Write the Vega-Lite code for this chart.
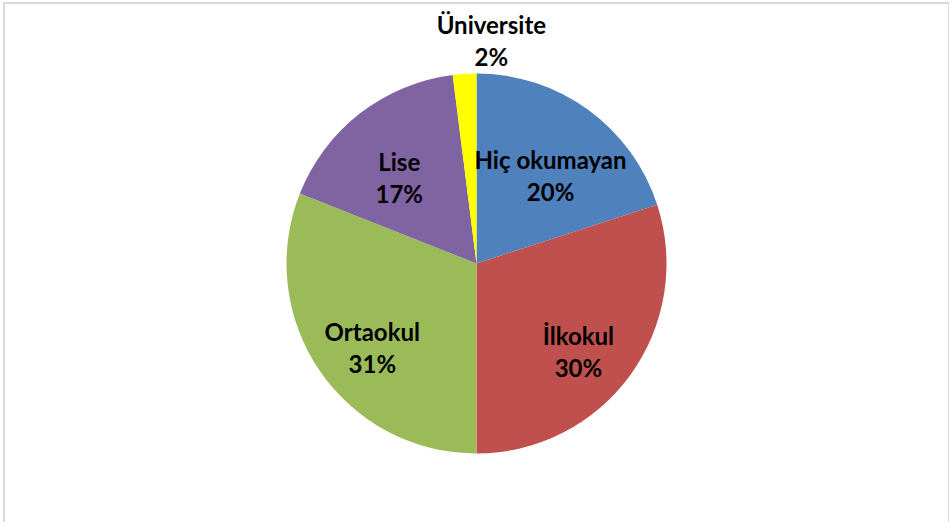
{
  "$schema": "https://vega.github.io/schema/vega-lite/v6.json",
  "width": 949,
  "height": 522,
  "autosize": {"type": "fit", "contains": "padding"},
  "padding": {"left": 4, "top": 3, "right": 0, "bottom": -2},
  "background": "white",
  "view": {"stroke": "#d9d9d9", "strokeWidth": 2},
  "data": {
    "values": [
      {"name": "Hiç okumayan", "value": 20},
      {"name": "İlkokul", "value": 30},
      {"name": "Ortaokul", "value": 31},
      {"name": "Lise", "value": 17},
      {"name": "Üniversite", "value": 2}
    ]
  },
  "transform": [
    {"window": [{"op": "row_number", "as": "idx"}]},
    {"calculate": "datum.name + '\\n' + datum.value + '%'", "as": "label"}
  ],
  "encoding": {
    "theta": {"field": "value", "type": "quantitative", "stack": true},
    "order": {"field": "idx", "type": "quantitative"}
  },
  "layer": [
    {
      "mark": {"type": "arc", "outerRadius": 190},
      "encoding": {
        "color": {
          "field": "name",
          "type": "nominal",
          "legend": null,
          "scale": {
            "domain": ["Hiç okumayan", "İlkokul", "Ortaokul", "Lise", "Üniversite"],
            "range": ["#4F81BD", "#C0504D", "#9BBB59", "#8064A2", "#FFFF00"]
          }
        }
      }
    },
    {
      "transform": [{"filter": "datum.name != 'Üniversite'"}],
      "mark": {"type": "text", "radius": 126, "font": "Lato", "fontWeight": "bold", "fontSize": 24, "lineBreak": "\n", "lineHeight": 32, "color": "#000000"},
      "encoding": {"text": {"field": "label"}}
    },
    {
      "transform": [{"filter": "datum.name == 'Üniversite'"}],
      "mark": {"type": "text", "radius": 237, "font": "Lato", "fontWeight": "bold", "fontSize": 24, "lineBreak": "\n", "lineHeight": 32, "color": "#000000"},
      "encoding": {"text": {"field": "label"}}
    }
  ]
}
